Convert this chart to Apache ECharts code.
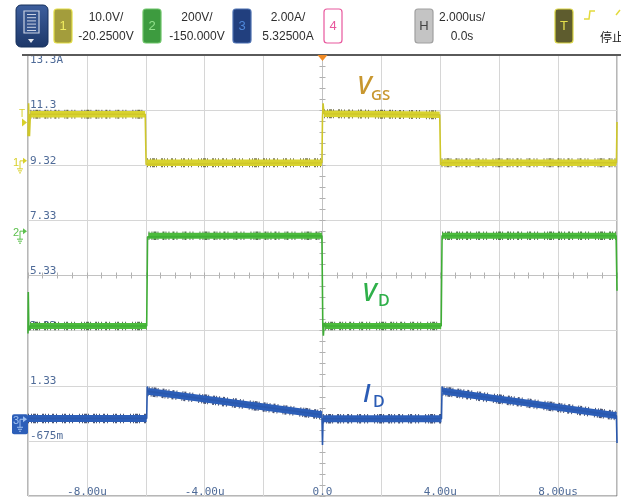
<!DOCTYPE html>
<html>
<head>
<meta charset="utf-8">
<script src="https://cdn.jsdelivr.net/npm/echarts/dist/echarts.min.js"></script>
<style>
  html, body { margin: 0; padding: 0; background: #ffffff; }
  #scope { width: 621px; height: 497px; }
</style>
</head>
<body>
<div id="scope"></div>
<script>
// ---- Captured waveforms (time in microseconds) ----
// Channel 1: gate-source voltage, volts
const vgsTime  = [-10, -9.98, -9.95, -9.92, -6.02, -5.99, -5.96, -0.02, 0.0, 0.02, 0.05, 3.98, 4.01, 4.04, 9.98, 10];
const vgsVolts = [5.0, 11.0, 5.0, 9.0, 9.0, -0.1, 0.2, 0.2, 8.5, 11.0, 9.1, 8.9, -0.2, 0.2, 0.2, 7.6];

// Channel 2: drain voltage, volts
const vdTime  = [-10, -9.99, -9.97, -9.93, -5.97, -5.94, -5.91, -0.02, 0.01, 0.03, 0.06, 0.09, 4.03, 4.06, 9.97, 10];
const vdVolts = [-360, -210, -350, -333, -333, -10, -6, -6, -330, -368, -322, -333, -333, -6, -6, -205];

// Channel 3: drain current, amperes
const idTime = [-10, -5.97, -5.95, -5.92, -0.02, 0.0, 0.02, 4.04, 4.06, 4.09, 9.98, 10];
const idAmps = [0.14, 0.14, 1.30, 1.12, 0.27, -0.82, 0.13, 0.13, 1.30, 1.13, 0.24, -0.75];

// Vertical settings per channel: units per division and centre-screen offset
const chScale  = [10, 200, 2];
const chOffset = [-20.25, -150, 5.325];
const trigLevel = 7.5; // channel 1 trigger level, volts

// Graticule tick labels
const xTickValues = [-8, -4, 0, 4, 8];
const xTickTexts  = ['-8.00u', '-4.00u', '0.0', '4.00u', '8.00us'];
const yTickTexts  = ['', '-675m', '1.33', '3.33', '5.33', '7.33', '9.32', '11.3', '13.3A'];

// Status bar texts
const chTags    = ['1', '2', '3'];
const chScaleTx = ['10.0V/', '200V/', '2.00A/'];
const chOffTx   = ['-20.2500V', '-150.000V', '5.32500A'];
const timebaseTx = ['2.000us/', '0.0s'];
const runStateTx = '停止';

// Trace names
const traceNames = [['V', 'GS'], ['V', 'D'], ['I', 'D']];

const chart = echarts.init(document.getElementById('scope'), null, { renderer: 'canvas' });

const DIVS_Y = 8;
function chRange(i) {
  return { min: chOffset[i] - chScale[i] * DIVS_Y / 2, max: chOffset[i] + chScale[i] * DIVS_Y / 2 };
}

function pairs(t, v) { return t.map((x, i) => [x, v[i]]); }

// Flat/ramp stretches only: break the line wherever two samples are an edge apart
function plateaus(t, v) {
  const out = [];
  for (let i = 0; i < t.length; i++) {
    out.push([t[i], v[i]]);
    if (i + 1 < t.length && t[i + 1] - t[i] < 0.045) out.push([(t[i] + t[i + 1]) / 2, '-']);
  }
  return out;
}

const traceStyle = [
  { color: '#d8d32f', edge: '#cfc72a', dark: '#4d4b1a', band: 6.5, halo: 9 },
  { color: '#4cbb3d', edge: '#3fae36', dark: '#1e4a1a', band: 6, halo: 8.5 },
  { color: '#2c5eb8', edge: '#2a58ad', dark: '#0f1d48', band: 7, halo: 9.5 }
];
// irregular dash pattern for the dark noise flecks along each band
const speckle = [1, 2, 1, 1, 3, 1, 1, 4, 2, 1, 1, 2, 1, 3, 2, 2, 1, 5, 1, 1, 2, 3, 1, 2, 1, 6];
const traceData = [[vgsTime, vgsVolts], [vdTime, vdVolts], [idTime, idAmps]];

const series = [];
traceData.forEach(([t, v], i) => {
  const st = traceStyle[i];
  const base = { type: 'line', xAxisIndex: 0, yAxisIndex: 3 + i, showSymbol: false, symbol: 'none', silent: true, animation: false };
  series.push(Object.assign({}, base, {
    name: 'halo' + i, data: plateaus(t, v), z: 3 + i * 3,
    lineStyle: { color: st.dark, width: st.halo, type: speckle, cap: 'butt', opacity: 0.75 }
  }));
  series.push(Object.assign({}, base, {
    name: 'band' + i, data: plateaus(t, v), z: 4 + i * 3,
    lineStyle: { color: st.color, width: st.band, cap: 'butt' }
  }));
  series.push(Object.assign({}, base, {
    name: 'trace' + i, data: pairs(t, v), z: 5 + i * 3,
    lineStyle: { color: st.edge, width: 1.6 }
  }));
});

const labelFont = { fontFamily: 'DejaVu Sans Mono', fontSize: 11, color: '#4f6b98' };
const centreLine = { show: true, onZero: true, onZeroAxisIndex: 0, lineStyle: { color: '#c2c2c2', width: 1 } };

function centreX(inside) {
  return {
    type: 'value', min: -10, max: 10, interval: 2, position: 'bottom',
    axisLine: centreLine,
    axisTick: { show: true, inside: inside, length: 3, lineStyle: { color: '#b0b0b0' } },
    minorTick: { show: true, splitNumber: 4, length: 3, lineStyle: { color: '#b0b0b0' } },
    axisLabel: { show: false }, splitLine: { show: false }, minorSplitLine: { show: false }
  };
}
function centreY(inside) {
  return {
    type: 'value', min: -4, max: 4, interval: 1, position: 'left',
    axisLine: centreLine,
    axisTick: { show: true, inside: inside, length: 3, lineStyle: { color: '#b0b0b0' } },
    minorTick: { show: true, splitNumber: 5, length: 3, lineStyle: { color: '#b0b0b0' } },
    axisLabel: { show: false }, splitLine: { show: false }, minorSplitLine: { show: false }
  };
}
function channelAxis(i) {
  const r = chRange(i);
  return { type: 'value', show: false, min: r.min, max: r.max, splitLine: { show: false } };
}

const option = {
  animation: false,
  backgroundColor: '#ffffff',
  grid: {
    left: 28, right: 4, top: 55, bottom: 1,
    show: true, borderColor: '#6e6e6e', borderWidth: 1,
    containLabel: false, outerBoundsMode: 'none'
  },
  xAxis: [
    {
      type: 'value', min: -10, max: 10, interval: 2, position: 'bottom',
      axisLine: { show: false, onZero: false },
      axisTick: { show: false },
      splitLine: { show: true, lineStyle: { color: '#d6d6d6', width: 1 } },
      axisLabel: Object.assign({
        inside: true, margin: -2,
        formatter: v => {
          const k = xTickValues.indexOf(Math.round(v));
          return k >= 0 ? xTickTexts[k] : '';
        }
      }, labelFont)
    },
    centreX(false),
    centreX(true)
  ],
  yAxis: [
    {
      type: 'value', min: -4, max: 4, interval: 1, position: 'left',
      axisLine: { show: false, onZero: false },
      axisTick: { show: false },
      splitLine: { show: true, lineStyle: { color: '#d6d6d6', width: 1 } },
      axisLabel: Object.assign({
        inside: true, margin: 2,
        formatter: v => {
          const k = Math.round(v) + 4;
          const s = yTickTexts[k];
          if (!s) return '';
          return k === yTickTexts.length - 1 ? '{t|' + s + '}' : '{n|' + s + '}';
        },
        rich: {
          n: Object.assign({ padding: [0, 0, 9, 0] }, labelFont),
          t: Object.assign({ padding: [11, 0, 0, 0] }, labelFont)
        }
      }, labelFont)
    },
    centreY(false),
    centreY(true),
    channelAxis(0),
    channelAxis(1),
    channelAxis(2)
  ],
  series: series
};

chart.setOption(option);

// ---- Status bar, trace names and channel markers ----
const g = [];
const txt = (x, y, s, st) => g.push({ type: 'text', x: x, y: y, z: 100, silent: true, style: Object.assign({ text: s }, st) });
const box = (x, fill, stroke) => g.push({ type: 'rect', z: 99, silent: true, shape: { x: x, y: 9, width: 18, height: 34, r: 3 }, style: { fill: fill, stroke: stroke, lineWidth: 1.2 } });
const hdrFont = { fontFamily: 'Liberation Sans', fontSize: 12, fill: '#2e2e2e', align: 'center', verticalAlign: 'middle' };

// menu button
g.push({ type: 'rect', z: 99, silent: true, shape: { x: 16, y: 5, width: 32, height: 42, r: 5 },
  style: { fill: new echarts.graphic.LinearGradient(0, 0, 0, 1, [{ offset: 0, color: '#3d5f9e' }, { offset: 1, color: '#1d3768' }]), stroke: '#16305c', lineWidth: 1 } });
g.push({ type: 'rect', z: 100, silent: true, shape: { x: 24, y: 11, width: 15, height: 22 }, style: { fill: '#34538c', stroke: '#c9d1e2', lineWidth: 1.2 } });
for (let k = 0; k < 6; k++) {
  g.push({ type: 'line', z: 101, silent: true, shape: { x1: 27, y1: 14.5 + k * 3.2, x2: 36, y2: 14.5 + k * 3.2 }, style: { stroke: '#c9d1e2', lineWidth: 1 } });
}
g.push({ type: 'polygon', z: 100, silent: true, shape: { points: [[28, 39], [34, 39], [31, 43]] }, style: { fill: '#e6e9f0' } });

// channel boxes
const boxX = [54, 143, 233];
const boxFill = ['#a39d3c', '#3d9b3f', '#213f7e'];
const boxStroke = ['#e2dc45', '#6cc468', '#4b6fb0'];
const tagFill = ['#f0ec60', '#92e28c', '#4f88da'];
const textCx = [106, 197, 288];
chTags.forEach((tag, i) => {
  box(boxX[i], boxFill[i], boxStroke[i]);
  txt(boxX[i] + 9, 26, tag, { fontFamily: 'Liberation Sans', fontSize: 13, fill: tagFill[i], align: 'center', verticalAlign: 'middle' });
  txt(textCx[i], 18, chScaleTx[i], hdrFont);
  txt(textCx[i], 37, chOffTx[i], hdrFont);
});
box(324, '#ffffff', '#e8589d');
txt(333, 26, '4', { fontFamily: 'Liberation Sans', fontSize: 13, fill: '#e8589d', align: 'center', verticalAlign: 'middle' });
box(415, '#c4c4c4', '#a0a0a0');
txt(424, 26, 'H', { fontFamily: 'Liberation Sans', fontSize: 13, fill: '#444444', align: 'center', verticalAlign: 'middle' });
txt(462, 18, timebaseTx[0], hdrFont);
txt(462, 37, timebaseTx[1], hdrFont);
box(555, '#5e5c2e', '#d9d443');
txt(564, 26, 'T', { fontFamily: 'Liberation Sans', fontSize: 13, fill: '#e5e04c', align: 'center', verticalAlign: 'middle' });
g.push({ type: 'polyline', z: 100, silent: true, shape: { points: [[584, 19], [589, 19], [590, 11], [595, 11]] }, style: { stroke: '#e3da3c', lineWidth: 1.5, fill: null } });
g.push({ type: 'line', z: 100, silent: true, shape: { x1: 616, y1: 15, x2: 620, y2: 10 }, style: { stroke: '#e3da3c', lineWidth: 1.5 } });
txt(600, 37, runStateTx, { fontFamily: 'Noto Sans CJK SC', fontSize: 12, fill: '#222222', align: 'left', verticalAlign: 'middle' });

// heavier top frame line and trigger position marker
g.push({ type: 'line', z: 90, silent: true, shape: { x1: 22, y1: 55, x2: 621, y2: 55 }, style: { stroke: '#5a5a5a', lineWidth: 2 } });
const trigX = chart.convertToPixel({ xAxisIndex: 0 }, 0);
g.push({ type: 'polygon', z: 95, silent: true, shape: { points: [[trigX - 5, 55], [trigX + 5, 55], [trigX, 61]] }, style: { fill: '#f08a24' } });

// trace names
const nameColor = ['#c8972f', '#2fb04a', '#2b5cb5'];
const namePos = [[357, 74], [362, 281], [363, 382]];
const subDx = [14, 16, 10];
const subDy = [14, 12, 12];
const subSize = [15, 16, 16];
traceNames.forEach((nm, i) => {
  const [x, y] = namePos[i];
  txt(x, y, nm[0], { fontFamily: 'Open Sans', fontSize: 25, fontStyle: 'italic', fontWeight: 600, fill: nameColor[i], align: 'left', verticalAlign: 'top' });
  txt(x + subDx[i], y + subDy[i], nm[1], { fontFamily: 'Open Sans', fontSize: subSize[i], fontWeight: 600, fill: nameColor[i], align: 'left', verticalAlign: 'top' });
});

// channel ground markers on the left edge
const markColor = ['#d8d02a', '#5cc04c', '#2c5eb8'];
[0, 1, 2].forEach(i => {
  const gy = chart.convertToPixel({ yAxisIndex: 3 + i }, 0);
  const c = markColor[i];
  const fg = i === 2 ? '#9fc0f0' : c;
  if (i === 2) {
    g.push({ type: 'rect', z: 98, silent: true, shape: { x: 12, y: gy - 8, width: 16, height: 20, r: 2 }, style: { fill: '#2c5eb8' } });
  }
  txt(16, gy - 1, chTags[i], { fontFamily: 'Liberation Sans', fontSize: 11, fill: fg, align: 'center', verticalAlign: 'middle' });
  g.push({ type: 'polyline', z: 100, silent: true, shape: { points: [[20, gy + 5], [20, gy - 3], [23, gy - 3]] }, style: { stroke: fg, lineWidth: 1, fill: null } });
  g.push({ type: 'polygon', z: 100, silent: true, shape: { points: [[23, gy - 6], [27, gy - 3], [23, gy]] }, style: { fill: fg } });
  g.push({ type: 'line', z: 100, silent: true, shape: { x1: 17, y1: gy + 5, x2: 23, y2: gy + 5 }, style: { stroke: fg, lineWidth: 1 } });
  g.push({ type: 'line', z: 100, silent: true, shape: { x1: 18, y1: gy + 7, x2: 22, y2: gy + 7 }, style: { stroke: fg, lineWidth: 1 } });
  g.push({ type: 'line', z: 100, silent: true, shape: { x1: 19, y1: gy + 9, x2: 21, y2: gy + 9 }, style: { stroke: fg, lineWidth: 1 } });
});
// trigger level marker for channel 1
const ty = chart.convertToPixel({ yAxisIndex: 3 }, trigLevel);
txt(22, ty - 8, 'T', { fontFamily: 'Liberation Sans', fontSize: 10, fill: markColor[0], align: 'center', verticalAlign: 'middle' });
g.push({ type: 'polygon', z: 100, silent: true, shape: { points: [[22, ty - 4], [27, ty], [22, ty + 4]] }, style: { fill: markColor[0] } });

chart.setOption({ graphic: { elements: g } });
</script>
</body>
</html>
